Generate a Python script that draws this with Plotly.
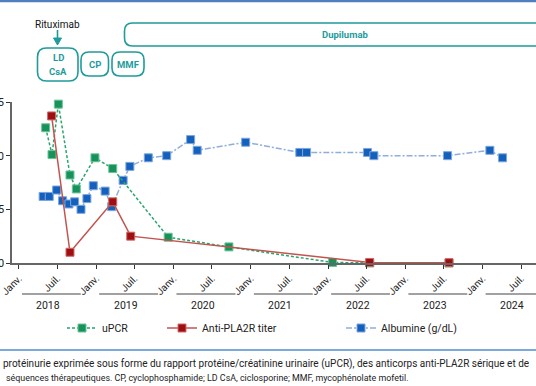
import plotly.graph_objects as go

# ---------------- data ----------------
upcr_dates = ["2018-05-07", "2018-06-06", "2018-07-06", "2018-08-30", "2018-09-29",
              "2018-12-26", "2019-03-20", "2019-12-07", "2020-09-19", "2022-01-22",
              "2022-07-16", "2023-07-26"]
upcr_vals = [12.6, 10.1, 14.8, 8.2, 6.9, 9.8, 8.8, 2.4, 1.5, 0.05, 0.0, 0.0]

pla2r_dates = ["2018-06-04", "2018-08-30", "2019-03-20", "2019-06-13", "2022-07-16", "2023-07-26"]
pla2r_vals = [13.7, 1.0, 5.7, 2.5, 0.05, 0.03]

alb_dates = ["2018-04-25", "2018-05-24", "2018-06-28", "2018-07-26", "2018-08-25",
             "2018-09-21", "2018-10-21", "2018-11-18", "2018-12-18", "2019-02-12",
             "2019-03-15", "2019-05-08", "2019-06-09", "2019-09-04", "2019-11-30",
             "2020-03-22", "2020-04-22", "2020-12-07", "2021-08-20", "2021-09-21",
             "2022-07-06", "2022-08-05", "2023-07-19", "2024-02-04", "2024-04-04"]
alb_vals = [6.2, 6.2, 6.8, 5.8, 5.5, 5.7, 5.0, 6.0, 7.2, 6.7, 5.25, 7.7, 9.0, 9.8,
            10.0, 11.5, 10.5, 11.25, 10.3, 10.3, 10.3, 10.0, 10.0, 10.5, 9.8]

years = [2018, 2019, 2020, 2021, 2022, 2023, 2024]
tick_vals = []
tick_text = []
for yr in years:
    tick_vals += [f"{yr}-01-01", f"{yr}-07-01"]
    tick_text += ["Janv.", "Juil."]
y_ticks = [0, 5, 10, 15]

# ---------------- layout helpers (pixels -> paper) ----------------
L, R, T, B = 12, 536, 102, 263
W, H = R - L, B - T


def pxx(x):
    return (x - L) / W


def pxy(y):
    return (B - y) / H


def rrect(x0, y0, x1, y1, r):
    pts = [("M", x0 + r, y0), ("L", x1 - r, y0), ("Q", x1, y0, x1, y0 + r),
           ("L", x1, y1 - r), ("Q", x1, y1, x1 - r, y1), ("L", x0 + r, y1),
           ("Q", x0, y1, x0, y1 - r), ("L", x0, y0 + r), ("Q", x0, y0, x0 + r, y0)]
    s = ""
    for p in pts:
        cmd = p[0]
        coords = p[1:]
        parts = []
        for i in range(0, len(coords), 2):
            parts.append(f"{pxx(coords[i]):.5f},{pxy(coords[i+1]):.5f}")
        s += cmd + " " + " ".join(parts) + " "
    return s + "Z"


TEAL = "#1f9b9c"
FONT = "Roboto"

fig = go.Figure()

fig.add_trace(go.Scatter(
    x=alb_dates, y=alb_vals, mode="lines+markers", name="Albumine (g/dL)",
    line=dict(color="#8eaedc", width=1.5, dash="6px,2px,2px,2px"),
    marker=dict(symbol="square", size=8, color="#1461bd", line=dict(color="#7fa6dd", width=1)),
    cliponaxis=False, legend="legend3"))

fig.add_trace(go.Scatter(
    x=upcr_dates, y=upcr_vals, mode="lines+markers", name="uPCR",
    line=dict(color="#27a66c", width=1.5, dash="3px,2px"),
    marker=dict(symbol="square", size=8, color="#17925a", line=dict(color="#6cc69a", width=1)),
    cliponaxis=False, legend="legend"))

fig.add_trace(go.Scatter(
    x=pla2r_dates, y=pla2r_vals, mode="lines+markers", name="Anti-PLA2R titer",
    line=dict(color="#c2544f", width=1.5),
    marker=dict(symbol="square", size=8, color="#9e0f12", line=dict(color="#d26a6a", width=1)),
    cliponaxis=False, legend="legend2"))

shapes = []
annotations = []


def ann(x, y, text, size, color, xanchor="center", xref="paper", bold=False):
    annotations.append(dict(xref=xref, yref="paper", x=x, y=y, xanchor=xanchor, yanchor="middle",
                            text=f"<b>{text}</b>" if bold else text, showarrow=False,
                            font=dict(family=FONT, size=size, color=color)))


# year bars and labels
for yr in years:
    shapes.append(dict(type="line", xref="x", yref="paper",
                       x0=f"{yr}-01-15", x1=f"{yr}-10-20", y0=pxy(294), y1=pxy(294),
                       line=dict(color="#444", width=1)))
    ann(f"{yr}-05-20", pxy(305), str(yr), 10.5, "#222", xref="x")

# treatment boxes
for (x0, y0, x1, y1, r) in [(37.5, 48, 78, 81, 9), (81, 52, 108.5, 76, 8),
                            (112, 52, 144, 76, 8), (124.5, 23, 575, 46, 8)]:
    shapes.append(dict(type="path", xref="paper", yref="paper", path=rrect(x0, y0, x1, y1, r),
                       line=dict(color=TEAL, width=1.6)))

box_texts = [("LD", 58, 58), ("CsA", 58, 71), ("CP", 95, 64), ("MMF", 128, 64), ("Dupilumab", 345, 34)]
for txt, x, y in box_texts:
    ann(pxx(x), pxy(y), txt, 9.5, TEAL, bold=True)

# rituximab label with arrow
ann(pxx(57), pxy(24), "Rituximab", 10, "#111")
shapes.append(dict(type="line", xref="paper", yref="paper", x0=pxx(57.5), x1=pxx(57.5),
                   y0=pxy(30), y1=pxy(40), line=dict(color=TEAL, width=1.6)))
shapes.append(dict(type="path", xref="paper", yref="paper",
                   path=f"M {pxx(53.5)},{pxy(38)} L {pxx(61.5)},{pxy(38)} L {pxx(57.5)},{pxy(45)} Z",
                   fillcolor=TEAL, line=dict(color=TEAL, width=1)))

# frame lines
shapes.append(dict(type="line", xref="paper", yref="paper", x0=pxx(-5), x1=pxx(545),
                   y0=pxy(1), y1=pxy(1), line=dict(color="#4f7fbf", width=2.5)))
shapes.append(dict(type="line", xref="paper", yref="paper", x0=pxx(-5), x1=pxx(545),
                   y0=pxy(350), y1=pxy(350), line=dict(color="#4f8fd0", width=1.5)))

# caption
ann(pxx(1), pxy(364),
    "protéinurie exprimée sous forme du rapport protéine/créatinine urinaire (uPCR), des anticorps anti-PLA2R sérique et de",
    10, "#222", xanchor="left")
ann(pxx(4), pxy(378),
    "séquences thérapeutiques. CP, cyclophosphamide; LD CsA, ciclosporine; MMF, mycophénolate mofetil.",
    8.9, "#222", xanchor="left")

leg_common = dict(orientation="h", yanchor="middle", xanchor="left", bgcolor="rgba(0,0,0,0)",
                  font=dict(family=FONT, size=10.5, color="#222"), itemwidth=30)

fig.update_layout(
    width=536, height=386,
    margin=dict(l=L, r=0, t=T, b=386 - B, autoexpand=False),
    paper_bgcolor="white", plot_bgcolor="white",
    font=dict(family=FONT, size=10, color="#222"),
    showlegend=True,
    legend=dict(x=pxx(107 - 45), y=pxy(328), **leg_common),
    legend2=dict(x=pxx(207 - 45), y=pxy(328), **leg_common),
    legend3=dict(x=pxx(386 - 45), y=pxy(328), **leg_common),
    xaxis=dict(type="date", range=["2017-11-29", "2024-09-09"], tickvals=tick_vals, ticktext=tick_text,
               tickangle=-45, ticks="outside", ticklen=4, tickcolor="#333", showgrid=False,
               showline=True, linecolor="#666", linewidth=1.5, zeroline=False,
               ticklabeloverflow="allow",
               tickfont=dict(family=FONT, size=10, color="#222")),
    yaxis=dict(range=[0, 15], tickvals=y_ticks, ticks="outside", ticklen=4, tickcolor="#333",
               showgrid=False, showline=True, linecolor="#666", linewidth=1.5, zeroline=False,
               ticklabeloverflow="allow",
               tickfont=dict(family=FONT, size=11, color="#222")),
    shapes=shapes, annotations=annotations,
)

fig.write_html("out.html", config={"displayModeBar": False},
               post_script="document.body.style.margin='0';")
